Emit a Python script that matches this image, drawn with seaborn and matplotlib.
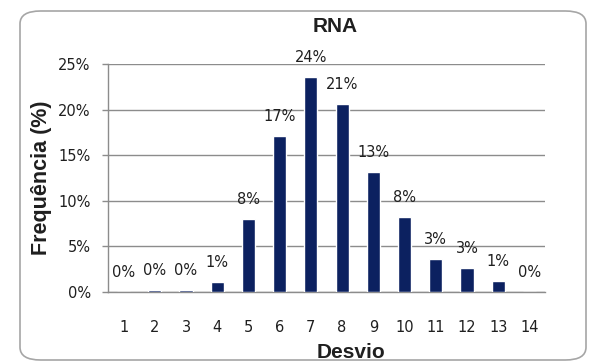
import matplotlib
matplotlib.use("Agg")
import matplotlib.pyplot as plt
import seaborn as sns
import pandas as pd
from matplotlib.patches import FancyBboxPatch
from matplotlib.ticker import PercentFormatter, FixedLocator

# dados
desvio = ["1", "2", "3", "4", "5", "6", "7", "8", "9", "10", "11", "12", "13", "14"]
frequencia = [0.0, 0.25, 0.25, 1.05, 8.0, 17.1, 23.6, 20.6, 13.2, 8.2, 3.6, 2.6, 1.25, 0.0]
rotulos = ["0%", "0%", "0%", "1%", "8%", "17%", "24%", "21%", "13%", "8%", "3%", "3%", "1%", "0%"]

df = pd.DataFrame({"Desvio": desvio, "Frequencia": frequencia})

sns.set_style("white")
plt.rcParams["font.family"] = ["DejaVu Sans"]
negrito = ["Liberation Sans", "DejaVu Sans"]
cor_texto = "#1f1f1f"

fig = plt.figure(figsize=(5.89, 3.64), dpi=100)
ax = fig.add_axes([108 / 589, 1 - 292 / 364, 437 / 589, 228 / 364])

# moldura arredondada
moldura = FancyBboxPatch((20 / 589, 4 / 364), 566 / 589, 349 / 364,
                         boxstyle="round,pad=0,rounding_size=0.035",
                         transform=fig.transFigure, facecolor="none",
                         edgecolor="#a6a6a6", linewidth=1.2, zorder=0)
fig.patches.append(moldura)

sns.barplot(x="Desvio", y="Frequencia", data=df, color="#0c2160",
            width=0.42, saturation=1, ax=ax, zorder=3)

# rótulos das barras
for i, (v, r) in enumerate(zip(frequencia, rotulos)):
    ax.annotate(r, (i, v), xytext=(0, 14), textcoords="offset points",
                ha="center", va="center", fontsize=10.5, color=cor_texto)

ax.set_xlim(-0.5, 13.5)
ax.set_ylim(0, 25)
ax.set_yticks([0, 5, 10, 15, 20, 25])
ax.yaxis.set_major_formatter(PercentFormatter(decimals=0))
ax.grid(axis="y", color="#8c8c8c", linewidth=1, zorder=0)

# marcas do eixo x entre as categorias
ax.xaxis.set_minor_locator(FixedLocator([i + 0.5 for i in range(-1, 14)]))
ax.tick_params(axis="x", which="major", length=0, pad=20, labelsize=10.5, labelcolor=cor_texto)
ax.tick_params(axis="x", which="minor", length=5, width=1, color="#8c8c8c", direction="out")
ax.tick_params(axis="y", length=4.5, width=1, color="#8c8c8c", direction="out",
               labelsize=10.5, pad=8, labelcolor=cor_texto)
ax.tick_params(axis="both", bottom=True, left=True)

for s in ["top", "right"]:
    ax.spines[s].set_visible(False)
for s in ["left", "bottom"]:
    ax.spines[s].set_color("#8c8c8c")
    ax.spines[s].set_linewidth(1)

ax.set_xlabel("Desvio", family=negrito, fontweight="bold", fontsize=15, color=cor_texto)
ax.xaxis.set_label_coords((351 - 108) / 437, -(343 - 292) / 228)
ax.xaxis.label.set_va("top")
ax.set_ylabel("Frequência (%)", family=negrito, fontweight="bold", fontsize=15.5, color=cor_texto)
ax.yaxis.set_label_coords(-(108 - 52) / 437, 0.5)
ax.set_title("RNA", family=negrito, fontweight="bold", fontsize=15, color=cor_texto,
             x=(335 - 108) / 437, y=(292 - 40) / 228, va="baseline")

fig.savefig("out.png", dpi=100)
